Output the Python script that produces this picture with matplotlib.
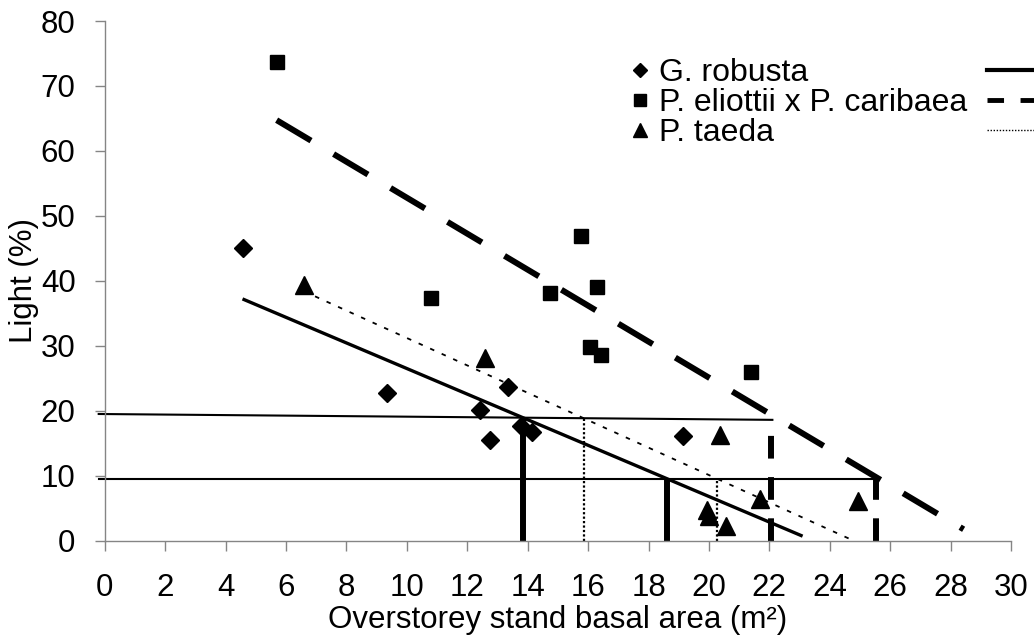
"""
Light (%) against overstorey stand basal area, three species with trendlines.
"""

import numpy as np
import matplotlib
matplotlib.use("Agg")
import matplotlib.pyplot as plt
from matplotlib.lines import Line2D


plt.rcParams["font.family"] = ["Liberation Sans", "DejaVu Sans"]

robusta_x = [4.56, 9.33, 12.43, 12.76, 13.34, 13.78, 14.14, 19.14]
robusta_y = [45.1, 22.8, 20.05, 15.5, 23.6, 17.7, 16.8, 16.15]

hybrid_x = [5.69, 10.8, 14.75, 15.75, 16.31, 16.05, 16.43, 21.4]
hybrid_y = [73.7, 37.3, 38.2, 46.9, 39.0, 29.8, 28.6, 26.0]

taeda_x = [6.58, 12.59, 19.95, 19.99, 20.56, 20.37, 21.68, 24.93]
taeda_y = [39.4, 28.1, 4.66, 3.74, 2.2, 16.3, 6.4, 6.15]

# linear trendlines: slope, intercept, x range
robusta_fit = (-1.97, 46.2, 4.56, 23.1)
hybrid_fit = (-2.77, 80.5, 5.69, 28.43)
taeda_fit = (-2.11, 52.3, 6.58, 24.79)

# light threshold lines (hand drawn, upper one slightly tilted)
upper_line_x = [-0.2, 22.1]
upper_line_y = [19.5, 18.6]
lower_line_x = [-0.2, 25.5]
lower_line_y = [9.55, 9.55]

# basal area where each trendline meets the thresholds
# order: robusta, hybrid, taeda
cross_upper = [13.86, 22.06, 15.85]
cross_lower = [18.6, 25.53, 20.28]

labels = ["G. robusta", "P. eliottii x P. caribaea", "P. taeda"]
x_ticks = list(range(0, 31, 2))
y_ticks = list(range(0, 81, 10))

FS = 22.5
LEG_FS = 23
SPINE = "#858585"

fig = plt.figure(figsize=(10.34, 6.39), dpi=100)
ax = fig.add_axes([0.1013, 0.1539, 0.8765, 0.8132])

# trendline styles
solid = dict(color="black", lw=2.4, linestyle="-", solid_capstyle="butt")
dashed = dict(color="black", lw=4.3, linestyle=(0, (6.7, 4.4)),
              dash_capstyle="butt")
dotted = dict(color="black", lw=1.3, linestyle=(0, (2.5, 4.5)))

styles = [solid, dashed, dotted]
fits = [robusta_fit, hybrid_fit, taeda_fit]

for fit, st in zip(fits, styles):
    slope, icpt, x0, x1 = fit
    xs = np.array([x0, x1])
    ax.plot(xs, icpt + slope * xs, zorder=2, **st)

# threshold lines
ax.plot(upper_line_x, upper_line_y, color="black", lw=1.5, clip_on=False,
        zorder=2)
ax.plot(lower_line_x, lower_line_y, color="black", lw=1.5, clip_on=False,
        zorder=2)

# vertical drop lines
vert_styles = [
    dict(color="black", lw=4.3, linestyle="-", solid_capstyle="butt"),
    dict(color="black", lw=4.3, linestyle=(0, (3.8, 3.1)),
         dash_capstyle="butt"),
    dict(color="black", lw=1.6, linestyle=(0, (1.0, 1.0))),
]

for xu, xl, st in zip(cross_upper, cross_lower, vert_styles):
    yu = np.interp(xu, upper_line_x, upper_line_y)
    yl = np.interp(xl, lower_line_x, lower_line_y)
    ax.plot([xu, xu], [0, yu], zorder=2, **st)
    ax.plot([xl, xl], [0, yl], zorder=2, **st)

# points
ax.plot(robusta_x, robusta_y, linestyle="none", marker="D", ms=8.8,
        color="black", zorder=3)
ax.plot(hybrid_x, hybrid_y, linestyle="none", marker="s", ms=10.5,
        color="black", zorder=3)
ax.plot(taeda_x, taeda_y, linestyle="none", marker="^", ms=12.5,
        color="black", zorder=3)

ax.set_xlim(0, 30)
ax.set_ylim(0, 80)
ax.set_xticks(x_ticks)
ax.set_yticks(y_ticks)

for side in ["top", "right"]:
    ax.spines[side].set_visible(False)
for side in ["left", "bottom"]:
    ax.spines[side].set_color(SPINE)
    ax.spines[side].set_linewidth(1.0)

ax.tick_params(axis="both", direction="out", color=SPINE, width=1.0,
               length=7, labelsize=FS)
ax.tick_params(axis="x", pad=16)
ax.tick_params(axis="y", pad=14)

ax.set_xlabel("Overstorey stand basal area (m²)", fontsize=FS, labelpad=2)
ax.set_ylabel("Light (%)", fontsize=FS, labelpad=1)

# legend: markers with names, line samples in a second column
marker_handles = [
    Line2D([], [], linestyle="none", marker="D", ms=7.0, color="black"),
    Line2D([], [], linestyle="none", marker="s", ms=8.2, color="black"),
    Line2D([], [], linestyle="none", marker="^", ms=9.8, color="black"),
]
fig.legend(marker_handles, labels, loc="upper left",
           bbox_to_anchor=(630 / 1034, 1 - 58 / 639), frameon=False,
           fontsize=LEG_FS, handlelength=0.6, handletextpad=0.3,
           labelspacing=0.0, borderpad=0, borderaxespad=0)

line_handles = [
    Line2D([], [], color="black", lw=3.0),
    Line2D([], [], color="black", lw=3.5, linestyle=(0, (3.4, 3.4)),
           dash_capstyle="butt"),
    Line2D([], [], color="black", lw=1.0, linestyle=(0, (1.0, 1.2))),
]
fig.legend(line_handles, ["", "", ""], loc="upper left",
           bbox_to_anchor=(987 / 1034, 1 - 58 / 639), frameon=False,
           fontsize=LEG_FS, handlelength=2.0, handletextpad=0,
           labelspacing=0.0, borderpad=0, borderaxespad=0)

fig.savefig("out.png", dpi=100)
